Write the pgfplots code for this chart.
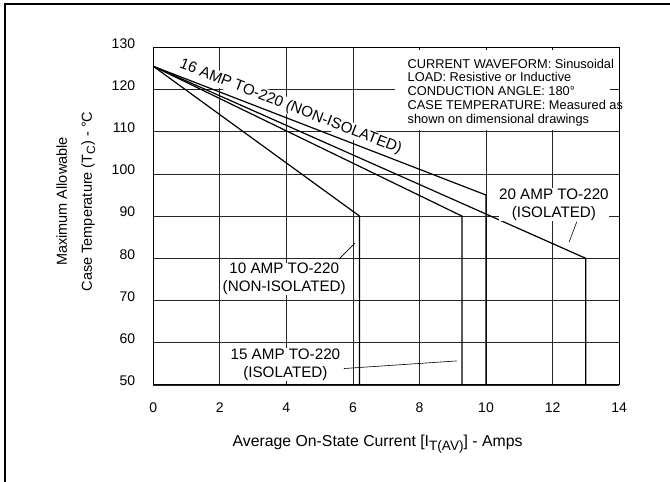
\documentclass[border=0pt]{standalone}
\usepackage{fontspec}
\setmainfont{Liberation Sans}
\usepackage{pgfplots}
\pgfplotsset{compat=1.18}
\begin{document}
\begin{tikzpicture}
\useasboundingbox (0,0) rectangle (670pt,482pt);
\draw[line width=2pt] (5pt,-2pt) -- (5pt,477.7pt) -- (672pt,477.7pt);
\begin{axis}[
  at={(153.3pt,97pt)}, anchor=south west,
  scale only axis, width=465.8pt, height=337.7pt,
  xmin=0, xmax=14, ymin=50, ymax=130,
  xtick={0,2,...,14}, ytick={50,60,...,130},
  grid=major, grid style={black!85, line width=0.7pt},
  axis line style={line width=1pt},
  major tick length=0pt,
  /pgf/number format/assume math mode=true,
  tick label style={font=\fontsize{14}{16}\selectfont, inner sep=0pt},
  xticklabel style={anchor=center, yshift=-23pt},
  yticklabel style={anchor=east, xshift=-18pt, yshift=4pt},
  xlabel={Average On-State Current [I\raisebox{-0.45ex}{\fontsize{13.6}{14}\selectfont T(AV)}] - Amps},
  xlabel style={at={(rel axis cs:0.4815,-0.175)}, anchor=center, font=\fontsize{15.8}{18}\selectfont},
  ylabel={Maximum Allowable\\Case Temperature (T\raisebox{-0.4ex}{\fontsize{12}{12}\selectfont C}) - °C},
  ylabel style={at={(rel axis cs:-0.1664,0.5434)}, anchor=center, align=center, font=\fontsize{14.5}{25}\selectfont},
]
\addplot[black, line width=1.2pt] coordinates {(0,125.5) (6.2,90) (6.2,50)};
\addplot[black, line width=1.2pt] coordinates {(0,125.5) (9.28,90) (9.28,50)};
\addplot[black, line width=1.2pt] coordinates {(0,125.5) (10,95) (10,50)};
\addplot[black, line width=1.2pt] coordinates {(0,125.5) (13,80) (13,50)};
% leader lines
\addplot[black, line width=0.6pt] coordinates {(5.58,79.8) (6.06,83.6)};
\addplot[black, line width=0.6pt] coordinates {(5.73,53.9) (9.12,55.7)};
\addplot[black, line width=0.6pt] coordinates {(12.50,83.9) (12.73,88.7)};
\coordinate (boxsw) at (axis cs:7.25,110.35);
\coordinate (boxne) at (axis cs:13.72,129.75);
\coordinate (t8) at (axis cs:8,130);
\coordinate (t10) at (axis cs:10,130);
\coordinate (t12) at (axis cs:12,130);
\coordinate (boxtxt) at (axis cs:7.64,127.3);
\coordinate (l16) at (axis cs:4.13,115.85);
\coordinate (l10) at (axis cs:3.935,75.1);
\coordinate (l15) at (axis cs:3.97,54.9);
\coordinate (l20) at (axis cs:12.04,92.7);
\end{axis}
% info box
\fill[white] (boxsw) rectangle (boxne);
\draw[line width=0.8pt] (t8) -- ++(0,-3pt);
\draw[line width=0.8pt] (t10) -- ++(0,-3pt);
\draw[line width=0.8pt] (t12) -- ++(0,-3pt);
\node[anchor=north west, align=left, inner sep=0pt, font=\fontsize{12.8}{13.75}\selectfont] at (boxtxt)
  {CURRENT WAVEFORM: Sinusoidal\\LOAD: Resistive or Inductive\\CONDUCTION ANGLE: 180°\\CASE TEMPERATURE: Measured as\\shown on dimensional drawings};
% curve labels
\node[fill=white, inner sep=1pt, rotate=-21.2, font=\fontsize{15.2}{18}\selectfont] at (l16) {16 AMP TO-220 (NON-ISOLATED)};
\node[fill=white, inner sep=0.5pt, align=center, font=\fontsize{15.2}{18}\selectfont] at (l10) {10 AMP TO-220\\(NON-ISOLATED)};
\node[fill=white, inner sep=0.5pt, align=center, font=\fontsize{15.2}{18}\selectfont] at (l15) {15 AMP TO-220\\(ISOLATED)};
\node[fill=white, inner sep=0.5pt, align=center, font=\fontsize{15.2}{18}\selectfont] at (l20) {20 AMP TO-220\\(ISOLATED)};
\end{tikzpicture}
\end{document}
